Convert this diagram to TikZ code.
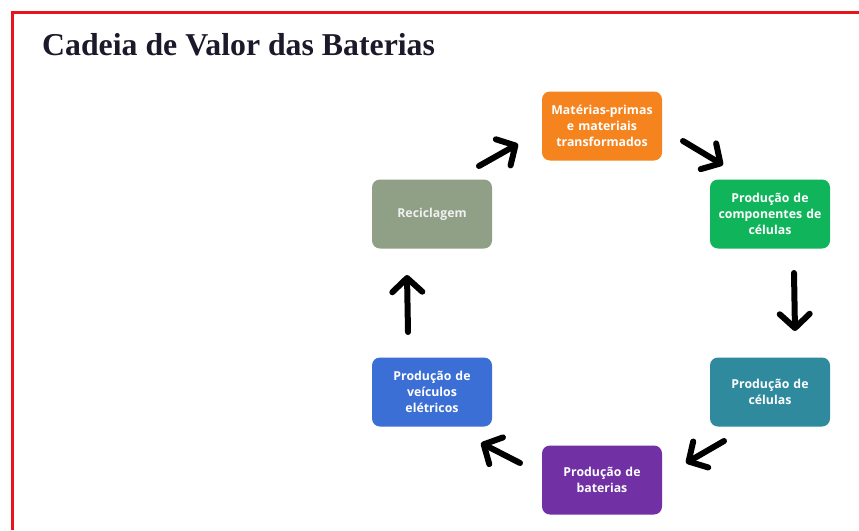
\documentclass[tikz,border=0pt]{standalone}
\usepackage{fontspec}
\setmainfont{Liberation Serif}
\newfontfamily\boxfont{Open Sans}
\usetikzlibrary{arrows.meta}
\definecolor{borderred}{HTML}{E8141B}
\definecolor{titlecol}{HTML}{1C1A2A}
\definecolor{cOrange}{HTML}{F5841F}
\definecolor{cGreen}{HTML}{10B45A}
\definecolor{cTeal}{HTML}{2F8A9E}
\definecolor{cPurple}{HTML}{7131A4}
\definecolor{cBlue}{HTML}{3B6FD6}
\definecolor{cSage}{HTML}{8FA086}
\tikzset{
  stage/.style={rounded corners=8pt, minimum width=120pt, minimum height=69pt,
    text width=118pt, align=center, inner sep=1pt, text=white,
    font=\boxfont\bfseries\fontsize{12.3}{16}\selectfont},
  flow/.style={line width=6pt, line cap=round, line join=round, black,
    -{Straight Barb[length=14pt,width=30pt,line cap=round,line join=round]}}
}
\begin{document}
\begin{tikzpicture}[x=1pt,y=-1pt]
\useasboundingbox (0,0) rectangle (859,530);
\fill[white] (0,0) rectangle (859,530);
% frame
\draw[borderred, line width=3pt] (12,530) -- (12,12) -- (859,12);
% title
\node[anchor=base west, inner sep=0pt, text=titlecol,
  font=\bfseries\fontsize{31.8}{36}\selectfont] (title) at (42,55) {Cadeia de Valor das Baterias};
% stages
\node[stage, fill=cOrange] (mat) at (602,126) {Matérias-primas\\e materiais\\transformados};
\node[stage, fill=cGreen] (comp) at (770,214) {Produção de\\componentes de\\células};
\node[stage, fill=cTeal] (cel) at (770,392) {Produção de\\células};
\node[stage, fill=cPurple] (bat) at (602,480) {Produção de\\baterias};
\node[stage, fill=cBlue] (vei) at (432,392) {Produção de\\veículos\\elétricos};
\node[stage, fill=cSage, text=white!88!gray] (rec) at (432,214) {Reciclagem};
% arrow ends
\coordinate (a1s) at (479,166); \coordinate (a1e) at (518,144);
\coordinate (a2s) at (683,141); \coordinate (a2e) at (723,165);
\coordinate (a3s) at (794,273); \coordinate (a3e) at (795,331);
\coordinate (a4s) at (724,441); \coordinate (a4e) at (686,463);
\coordinate (a5s) at (520,463); \coordinate (a5e) at (481,443);
\coordinate (a6s) at (408,332); \coordinate (a6e) at (407,275);
\draw[flow] (a1s) -- (a1e);
\draw[flow] (a2s) -- (a2e);
\draw[flow] (a3s) -- (a3e);
\draw[flow] (a4s) -- (a4e);
\draw[flow] (a5s) -- (a5e);
\draw[flow] (a6s) -- (a6e);
\end{tikzpicture}
\end{document}
